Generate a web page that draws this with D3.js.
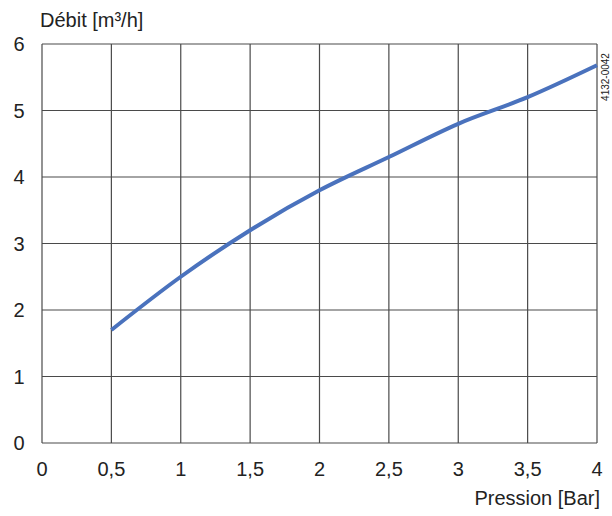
<!DOCTYPE html>
<html>
<head>
<meta charset="utf-8">
<script src="https://cdn.jsdelivr.net/npm/d3@7"></script>
<style>
  body { margin: 0; background: #fff; }
  svg { display: block; font-family: "Liberation Sans", Arial, sans-serif; }
</style>
</head>
<body>
<div id="chart"></div>
<script>
// Pressure (bar) vs flow (m³/h)
const pressure = [0.5, 1, 1.5, 2, 2.5, 3, 3.5, 4];
const debit = [1.7, 2.5, 3.2, 3.8, 4.3, 4.8, 5.2, 5.68];
const xTicks = [0, 0.5, 1, 1.5, 2, 2.5, 3, 3.5, 4];
const yTicks = [0, 1, 2, 3, 4, 5, 6];

const width = 612, height = 516;
const margin = { left: 42, right: 15, top: 44, bottom: 73 };

const svg = d3.select('#chart').append('svg')
  .attr('width', width)
  .attr('height', height);

const x = d3.scaleLinear().domain([0, 4]).range([margin.left, width - margin.right]);
const y = d3.scaleLinear().domain([0, 6]).range([height - margin.bottom, margin.top]);

const fmt = d => String(d).replace('.', ',');

// grid
const grid = svg.append('g').attr('stroke', '#4a4a4a').attr('stroke-width', 1.2);
grid.selectAll('line.v').data(xTicks).enter().append('line')
  .attr('x1', d => x(d)).attr('x2', d => x(d))
  .attr('y1', y(0)).attr('y2', y(6));
grid.selectAll('line.h').data(yTicks).enter().append('line')
  .attr('x1', x(0)).attr('x2', x(4))
  .attr('y1', d => y(d)).attr('y2', d => y(d));

// tick labels
svg.append('g').selectAll('text').data(xTicks).enter().append('text')
  .attr('x', d => x(d)).attr('y', y(0) + 33)
  .attr('text-anchor', 'middle')
  .attr('font-size', 20).attr('fill', '#222')
  .text(fmt);

svg.append('g').selectAll('text').data(yTicks).enter().append('text')
  .attr('x', 19).attr('y', d => y(d) + 7)
  .attr('text-anchor', 'middle')
  .attr('font-size', 20).attr('fill', '#222')
  .text(fmt);

// axis titles
svg.append('text')
  .attr('x', 40).attr('y', 27)
  .attr('font-size', 20).attr('fill', '#222')
  .text('Débit [m³/h]');

svg.append('text')
  .attr('x', 600).attr('y', 505)
  .attr('text-anchor', 'end')
  .attr('font-size', 20).attr('fill', '#222')
  .text('Pression [Bar]');

// drawing reference number
svg.append('text')
  .attr('transform', 'translate(609,77) rotate(-90)')
  .attr('text-anchor', 'middle')
  .attr('font-size', 10).attr('fill', '#222')
  .text('4132-0042');

// curve
const line = d3.line()
  .x((d, i) => x(pressure[i]))
  .y(d => y(d))
  .curve(d3.curveMonotoneX);

svg.append('path')
  .datum(debit)
  .attr('fill', 'none')
  .attr('stroke', '#4a72bd')
  .attr('stroke-width', 4)
  .attr('d', line);
</script>
</body>
</html>
